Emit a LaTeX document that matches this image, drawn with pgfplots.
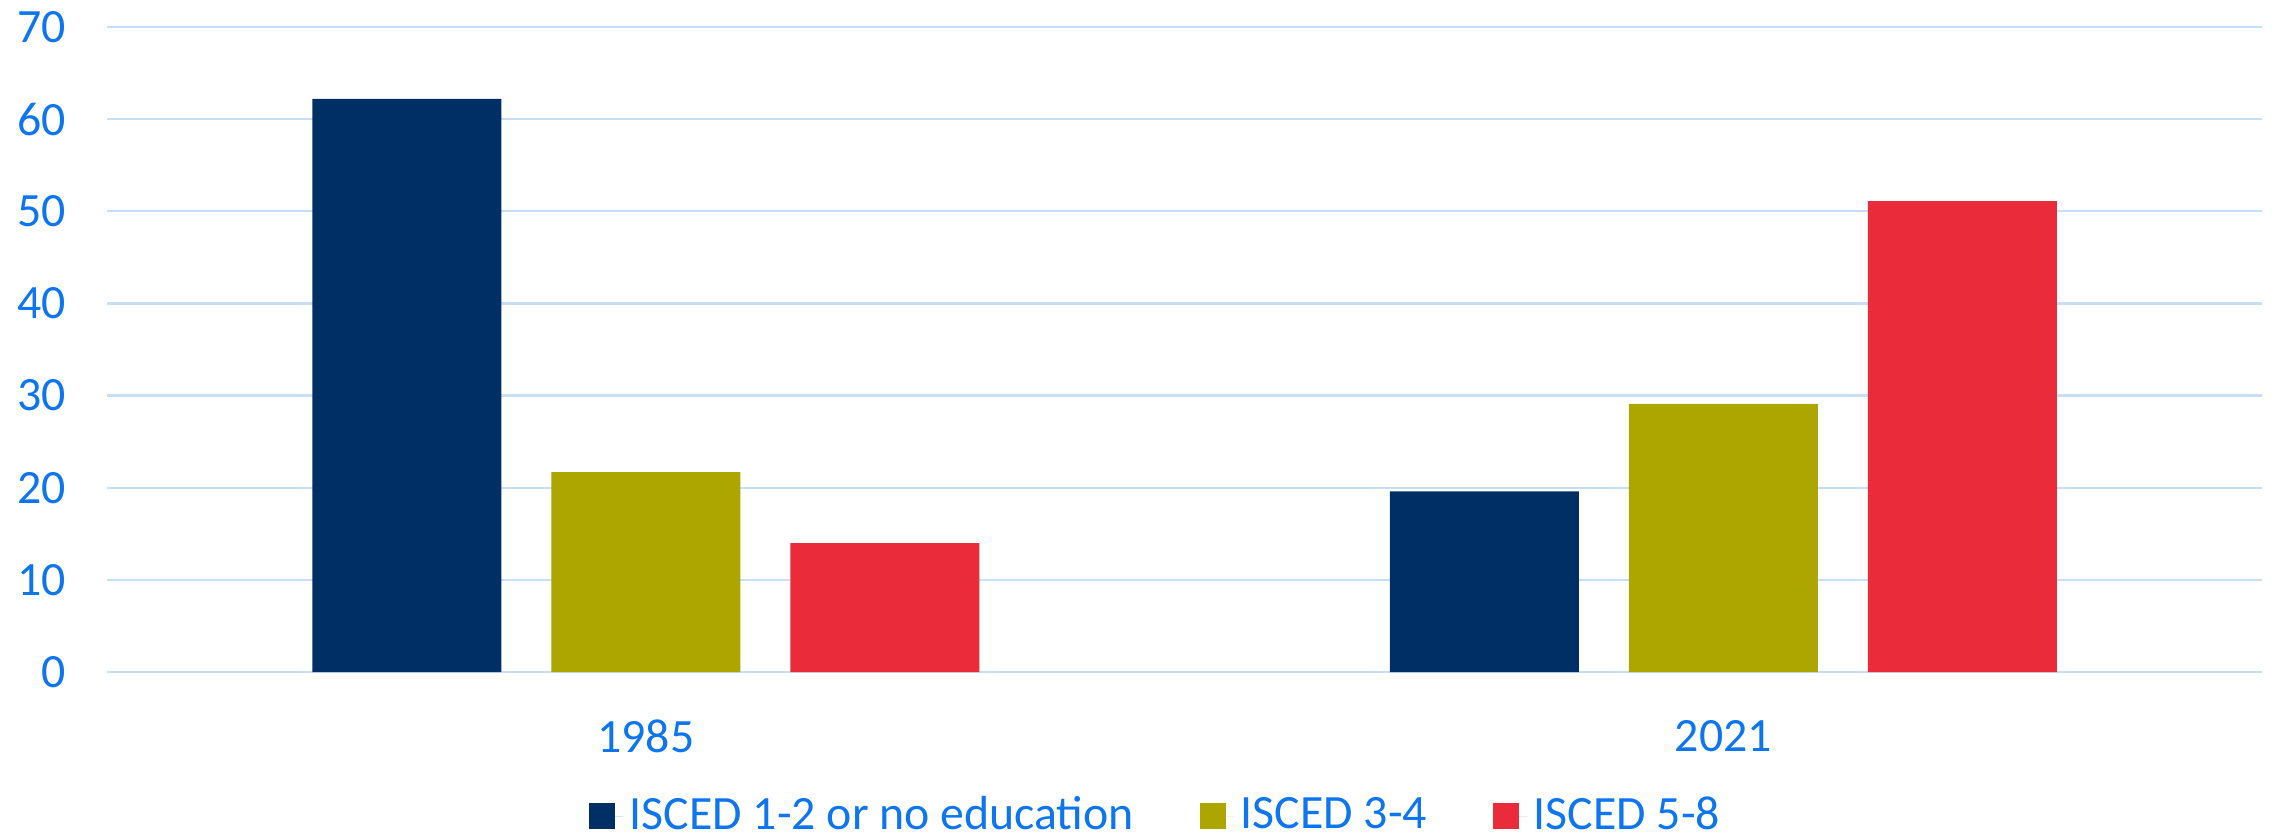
\documentclass[border=0pt]{standalone}
\usepackage{fontspec}
\setmainfont{Carlito}
\usepackage{pgfplots}
\pgfplotsset{compat=1.18}
\definecolor{navy}{RGB}{0,47,101}
\definecolor{olive}{RGB}{173,165,0}
\definecolor{cred}{RGB}{234,43,57}
\definecolor{gridcol}{RGB}{198,222,248}
\definecolor{tickblue}{RGB}{13,117,240}
\begin{document}
\begin{tikzpicture}
\begin{axis}[
  at={(0,0)}, anchor=south west,
  scale only axis, width=538.75bp, height=161.25bp,
  xmin=-0.5, xmax=1.5, ymin=0, ymax=70,
  ytick={0,10,...,70},
  xtick={0,1}, xticklabels={1985,2021},
  ybar=12.5bp, bar width=47.25bp,
  axis line style={draw=none},
  major tick length=0pt,
  ymajorgrids, grid style={gridcol, line width=0.6bp},
  /pgf/number format/assume math mode=true,
  tick label style={font=\fontsize{12}{14}\selectfont, text=tickblue, inner sep=0pt},
  yticklabel style={anchor=east, xshift=-10bp},
  xticklabel style={anchor=center, yshift=-16bp},
  legend columns=3,
  legend style={draw=none, at={(0.4875,-0.2233)}, anchor=center,
    font=\fontsize{12}{14}\selectfont, text=tickblue,
    /tikz/every even column/.append style={column sep=14.8bp},
    nodes={inner xsep=1.6bp, inner ysep=0pt}},
  legend image code/.code={\fill[#1] (0bp,-3.25bp) rectangle (6.5bp,3.25bp);
    \path (6.5bp,0bp) -- (8.7bp,0bp);},
]
\addplot[fill=navy, draw=none] coordinates {(0,62.2) (1,19.6)};
\addplot[fill=olive, draw=none] coordinates {(0,21.7) (1,29.1)};
\addplot[fill=cred, draw=none] coordinates {(0,14.0) (1,51.1)};
\legend{ISCED 1-2 or no education, ISCED 3-4, ISCED 5-8}
\end{axis}
\pgfresetboundingbox
\path[use as bounding box] (-26.75bp,-41bp) rectangle (541.25bp,168bp);
\end{tikzpicture}
\end{document}
